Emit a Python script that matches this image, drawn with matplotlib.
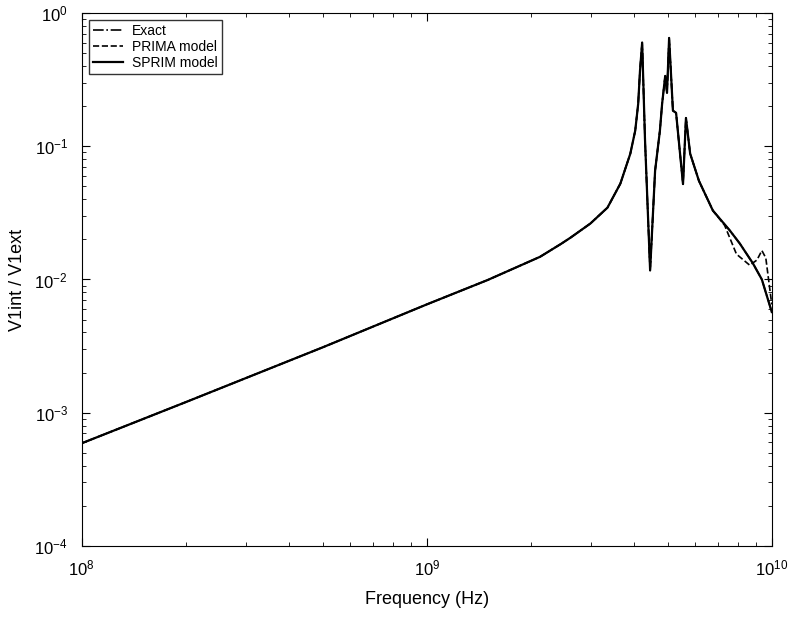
import matplotlib
matplotlib.use('Agg')
import matplotlib.pyplot as plt
from matplotlib.ticker import LogLocator, NullFormatter

plt.rcParams['font.family'] = ['Liberation Sans', 'DejaVu Sans']
plt.rcParams['mathtext.fontset'] = 'custom'
plt.rcParams['mathtext.rm'] = 'Liberation Sans'

# frequency (Hz) and response
freq = [1.0e8, 2.0e8, 5.0e8, 1.0e9, 1.5e9, 2.13e9, 2.45e9, 2.61e9, 2.98e9, 3.34e9,
        3.64e9, 3.89e9, 4.02e9, 4.10e9, 4.15e9, 4.21e9, 4.29e9, 4.44e9, 4.59e9,
        4.74e9, 4.81e9, 4.91e9, 4.97e9, 5.04e9, 5.17e9, 5.28e9, 5.53e9, 5.64e9,
        5.80e9, 6.15e9, 6.75e9, 7.56e9, 8.08e9, 8.82e9, 9.36e9, 1.0e10]
sprim = [5.9e-4, 1.2e-3, 3.1e-3, 6.5e-3, 9.9e-3, 0.0148, 0.0185, 0.0206, 0.0263, 0.0346,
         0.0524, 0.0879, 0.131, 0.208, 0.368, 0.60, 0.114, 0.0117, 0.0655,
         0.131, 0.208, 0.337, 0.252, 0.65, 0.185, 0.178, 0.052, 0.163,
         0.088, 0.055, 0.0329, 0.0233, 0.0186, 0.0132, 0.0100, 0.0057]
exact = sprim

# PRIMA deviates at the high-frequency end
prima_freq = freq[:31] + [7.3e9, 7.9e9, 8.63e9, 9.06e9, 9.36e9, 9.61e9, 1.0e10]
prima = sprim[:31] + [0.0255, 0.0155, 0.0128, 0.0140, 0.0165, 0.0145, 0.0065]

fig = plt.figure(figsize=(7.94, 6.19), dpi=100)
ax = fig.add_axes([0.103, 0.118, 0.869, 0.861])

ax.loglog(freq, exact, color='black', linestyle='-.', lw=1.2, label='Exact')
ax.loglog(prima_freq, prima, color='black', linestyle='--', lw=1.2, label='PRIMA model')
ax.loglog(freq, sprim, color='black', linestyle='-', lw=1.6, label='SPRIM model')

ax.set_xlim(1e8, 1e10)
ax.set_ylim(1e-4, 1e0)
ax.xaxis.set_minor_locator(LogLocator(base=10, subs=range(2, 10), numticks=20))
ax.yaxis.set_minor_locator(LogLocator(base=10, subs=range(2, 10), numticks=20))
ax.xaxis.set_minor_formatter(NullFormatter())
ax.yaxis.set_minor_formatter(NullFormatter())
ax.tick_params(which='both', direction='in', top=True, right=True, labelsize=12)
ax.tick_params(which='major', length=6)
ax.tick_params(which='minor', length=3)
ax.tick_params(axis='x', which='major', pad=9)
ax.tick_params(axis='y', which='major', pad=10)

ax.set_xlabel('Frequency (Hz)', fontsize=13, labelpad=9)
ax.set_ylabel('V1int / V1ext', fontsize=13, labelpad=6)

leg = ax.legend(loc='upper left', fontsize=10, frameon=True, fancybox=False,
                edgecolor='black', handlelength=2.2, borderpad=0.3,
                labelspacing=0.15, borderaxespad=0.5, handletextpad=0.6)
leg.get_frame().set_linewidth(1.0)

fig.savefig('out.png', dpi=100)
